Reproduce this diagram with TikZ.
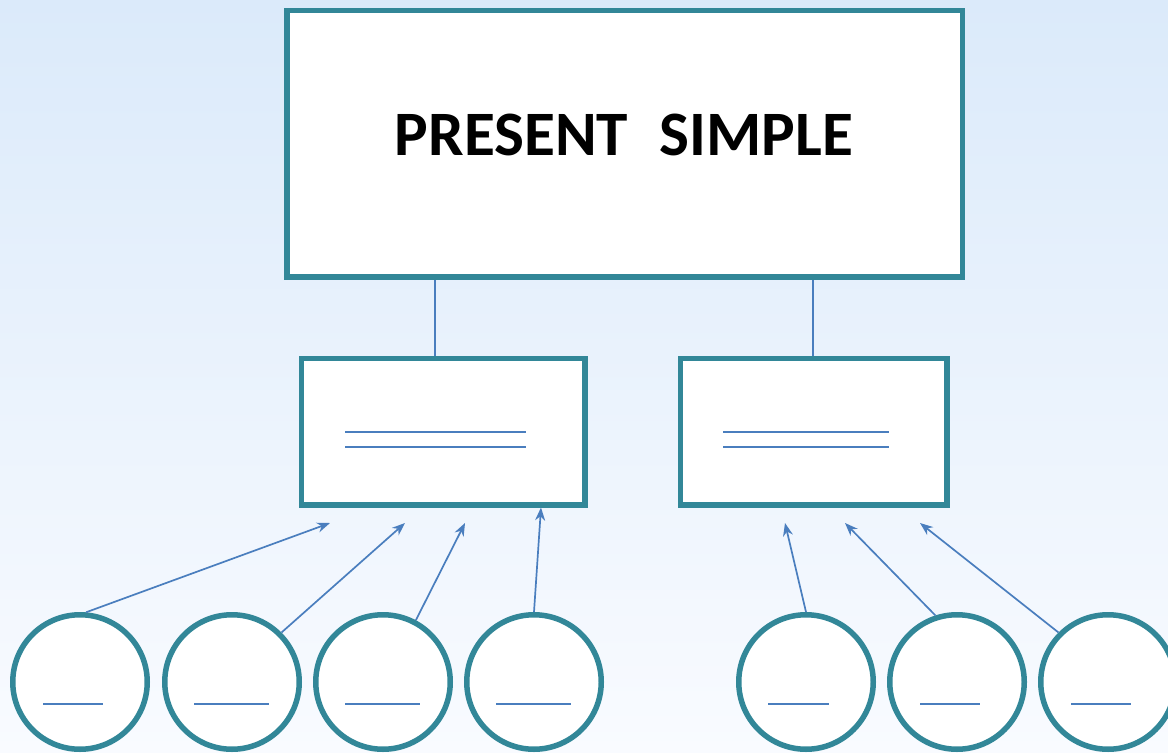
\documentclass[tikz,border=0pt]{standalone}
\usepackage{fontspec}
\setmainfont{Carlito}
\usetikzlibrary{arrows.meta}
\definecolor{frameteal}{RGB}{50,135,152}
\definecolor{linkblue}{RGB}{74,126,190}
\definecolor{skytop}{RGB}{219,234,250}
\definecolor{skybottom}{RGB}{249,251,255}

\begin{document}
\begin{tikzpicture}[x=0.1mm, y=-0.1mm,
	box/.style={draw=frameteal, line width=0.55mm, fill=white, rectangle, inner sep=0pt},
	blank/.style={draw=frameteal, line width=0.55mm, fill=white, circle, inner sep=0pt, minimum size=13.45mm},
	link/.style={draw=linkblue, line width=0.2mm},
	pointer/.style={draw=linkblue, line width=0.17mm, -{Stealth[length=1.3mm, width=1mm]}}]
	%%%%% START %%%%%
	
	\useasboundingbox (0, 0) rectangle (1168, 753);
	\fill[top color=skytop, bottom color=skybottom] (0, 0) rectangle (1168, 753);
	
	\node[box, minimum width=67.55mm, minimum height=26.65mm] (tense) at (624.5, 144) {};
	\node[font=\bfseries\fontsize{18}{20}\selectfont] (tensetext) at (624, 135) {PRESENT\hspace{0.5em}SIMPLE};
	
	\node[box, minimum width=28.35mm, minimum height=14.65mm] (leftbox) at (443, 431.5) {};
	\node[box, minimum width=26.65mm, minimum height=14.65mm] (rightbox) at (813.5, 431.5) {};
	
	\draw[link] (tense.south -| 435, 0) -- (leftbox.north -| 435, 0);
	\draw[link] (tense.south -| 813, 0) -- (rightbox.north -| 813, 0);
	
	\draw[link] (345, 432) -- (526, 432);
	\draw[link] (345, 447) -- (526, 447);
	\draw[link] (723, 432) -- (889, 432);
	\draw[link] (723, 447) -- (889, 447);
	
	\node[blank] (c1) at (80, 682) {};
	\node[blank] (c2) at (232, 682) {};
	\node[blank] (c3) at (383, 682) {};
	\node[blank] (c4) at (534, 682) {};
	\node[blank] (c5) at (806, 682) {};
	\node[blank] (c6) at (957, 682) {};
	\node[blank] (c7) at (1108, 682) {};
	
	\draw[link] (43, 704) -- (103, 704);
	\draw[link] (194, 704) -- (269, 704);
	\draw[link] (345, 704) -- (420, 704);
	\draw[link] (496, 704) -- (571, 704);
	\draw[link] (768, 704) -- (829, 704);
	\draw[link] (920, 704) -- (980, 704);
	\draw[link] (1071, 704) -- (1131, 704);
	
	\coordinate (t1) at (330, 523);
	\coordinate (t2) at (405, 523);
	\coordinate (t3) at (465, 523);
	\coordinate (t5) at (785, 523);
	\coordinate (t6) at (845, 523);
	\coordinate (t7) at (920, 523);
	
	\draw[pointer] (c1.85) -- (t1);
	\draw[pointer] (c2.45) -- (t2);
	\draw[pointer] (c3.62) -- (t3);
	\draw[pointer] (c4.north) -- (leftbox.south -| 541, 0);
	\draw[pointer] (c5.north) -- (t5);
	\draw[pointer] (c6.108) -- (t6);
	\draw[pointer] (c7.135) -- (t7);
	
	%%%%% END %%%%%
\end{tikzpicture}
\end{document}
